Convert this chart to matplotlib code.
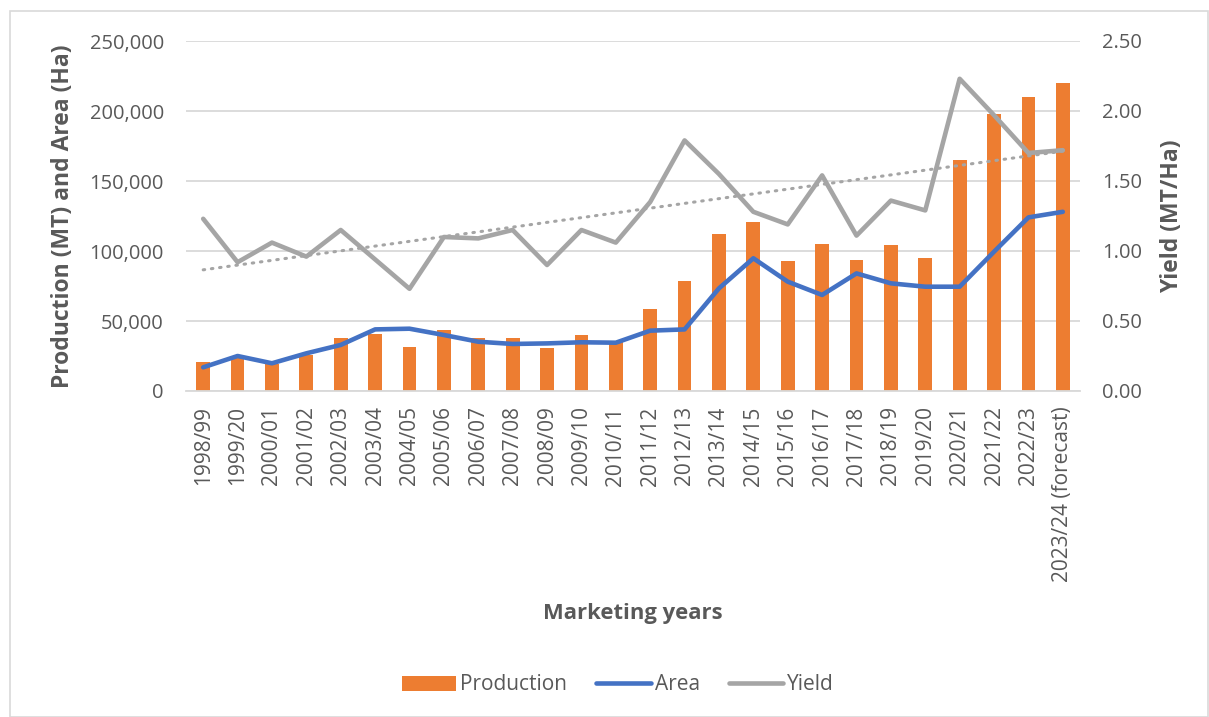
import numpy as np
import matplotlib
matplotlib.use("Agg")
from matplotlib import pyplot as plt
from matplotlib.patches import Patch, Rectangle
from matplotlib.lines import Line2D
from matplotlib.ticker import FuncFormatter, MultipleLocator

# marketing years
years = ['1998/99', '1999/20', '2000/01', '2001/02', '2002/03', '2003/04', '2004/05',
         '2005/06', '2006/07', '2007/08', '2008/09', '2009/10', '2010/11', '2011/12',
         '2012/13', '2013/14', '2014/15', '2015/16', '2016/17', '2017/18', '2018/19',
         '2019/20', '2020/21', '2021/22', '2022/23', '2023/24 (forecast)']

# production (MT)
production = [21000, 24000, 19500, 26000, 37600, 40700, 31700, 43600, 37600, 37600,
              30500, 40000, 35200, 58300, 78800, 111900, 120700, 92900, 104800, 93300,
              104000, 94800, 165000, 197900, 210000, 220200]

# area (Ha)
area = [16900, 25000, 19800, 26900, 32900, 44000, 44500, 40000, 35200, 33600,
        34000, 34800, 34500, 43100, 44000, 73300, 94800, 78100, 68600, 84000,
        76900, 74500, 74500, 99500, 124000, 128000]

# yield (MT/Ha)
yld = [1.23, 0.92, 1.06, 0.96, 1.15, 0.94, 0.73, 1.10, 1.09, 1.15, 0.90, 1.15, 1.06,
       1.35, 1.79, 1.55, 1.28, 1.19, 1.54, 1.11, 1.36, 1.29, 2.23, 1.97, 1.70, 1.72]

orange = '#ED7D31'
blue = '#4472C4'
grey = '#A5A5A5'
txt = '#595959'

plt.rcParams['font.family'] = ['Open Sans', 'DejaVu Sans']

fig = plt.figure(figsize=(12.09, 7.17), dpi=100)
ax = fig.add_axes([186 / 1209, 1 - 391 / 717, 894 / 1209, 350 / 717])
ax2 = ax.twinx()

x = np.arange(len(years))
ax.bar(x, production, width=0.4, color=orange, zorder=2)
ax.plot(x, area, color=blue, lw=3.3, solid_joinstyle='round', solid_capstyle='round', zorder=3)

# linear trend of yield
k, b = np.polyfit(x, yld, 1)
ax2.plot(x, k * x + b, color=grey, lw=2.2, linestyle=(0, (0.5, 2.2)), dash_capstyle='round', zorder=2)
ax2.plot(x, yld, color=grey, lw=3.3, solid_joinstyle='round', solid_capstyle='round', zorder=3)

ax.set_xlim(-0.5, len(years) - 0.5)
ax.set_ylim(0, 250000)
ax2.set_ylim(0, 2.5)
ax.yaxis.set_major_locator(MultipleLocator(50000))
ax2.yaxis.set_major_locator(MultipleLocator(0.5))
ax.yaxis.set_major_formatter(FuncFormatter(lambda v, p: f'{v:,.0f}'))
ax2.yaxis.set_major_formatter(FuncFormatter(lambda v, p: f'{v:.2f}'))

ax.grid(axis='y', color='#D9D9D9', lw=1.3, zorder=0)
ax.set_axisbelow(True)
for a in (ax, ax2):
    for s in a.spines.values():
        s.set_visible(False)
ax.spines['bottom'].set_visible(True)
ax.spines['bottom'].set_color('#D9D9D9')
ax.spines['bottom'].set_linewidth(1.3)

ax.set_xticks(x)
ax.set_xticklabels(years, rotation=90, fontsize=15, color=txt)
ax.tick_params(axis='x', length=0, pad=11)
ax.tick_params(axis='y', length=0, pad=16, labelsize=14.5, labelcolor=txt)
ax2.tick_params(axis='y', length=0, pad=16, labelsize=14.5, labelcolor=txt)

ax.set_ylabel('Production (MT) and Area (Ha)', fontsize=16.5, fontweight='bold', color=txt)
ax.yaxis.set_label_coords(-0.124, 0.5)
ax2.set_ylabel('Yield (MT/Ha)', fontsize=16.5, fontweight='bold', color=txt, rotation=90)
ax2.yaxis.set_label_coords(1.089, 0.5)

fig.text(633 / 1209, 1 - 614 / 717, 'Marketing years', ha='center', va='center',
         fontsize=15.8, fontweight='bold', color=txt)

handles = [Patch(facecolor=orange, label='Production'),
           Line2D([], [], color=blue, lw=3.3, solid_capstyle='round', label='Area'),
           Line2D([], [], color=grey, lw=3.3, solid_capstyle='round', label='Yield')]
fig.legend(handles=handles, loc='center', bbox_to_anchor=(618 / 1209, 1 - 685 / 717), ncol=3,
           frameon=False, fontsize=15, labelcolor=txt, handlelength=2.6, handletextpad=0.2,
           columnspacing=1.4)

# chart border
fig.patches.append(Rectangle((10 / 1209, 0), 1 - 10 / 1209 - 0.001, 1 - 11 / 717,
                             transform=fig.transFigure, fill=False, edgecolor='#D9D9D9', lw=1.2))

fig.savefig('out.png', dpi=100, facecolor='white')
